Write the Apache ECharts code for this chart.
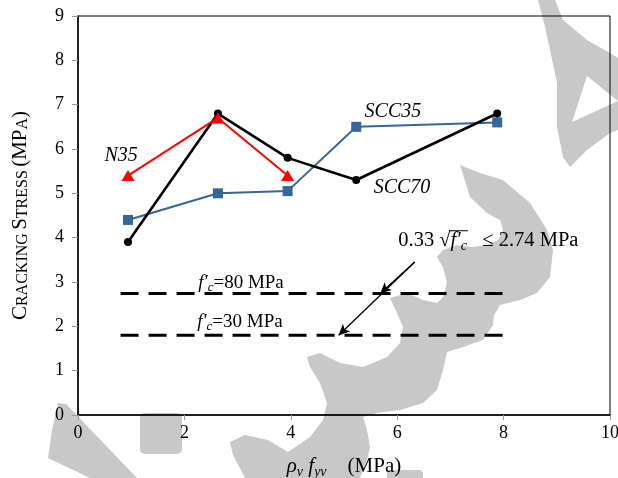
<!DOCTYPE html>
<html>
<head>
<meta charset="utf-8">
<script src="https://cdn.jsdelivr.net/npm/echarts@6/dist/echarts.min.js"></script>
<style>
  html, body { margin: 0; padding: 0; background: #fff; }
  #chart { width: 618px; height: 478px; }
</style>
</head>
<body>
<div id="chart"></div>
<script>
// Shear reinforcement index ρv·fyv (MPa) for each beam group
const reinforcement = [0.94, 2.63, 3.94, 5.23, 7.88];
// Measured cracking stress (MPa)
const scc70 = [3.9, 6.8, 5.8, 5.3, 6.8];
const scc35 = [4.4, 5.0, 5.05, 6.5, 6.6];
const n35 = [5.4, 6.7, 5.4];
// Code limit 0.33·√f'c for two concrete strengths
const limitSpan = [0.8, 8.0];
const limit80 = 2.74;
const limit30 = 1.8;
// Axis ranges
const xRange = [0, 10, 2];
const yRange = [0, 9, 1];

const serif = '"Liberation Serif", "Times New Roman", serif';
const pairs = (xs, ys) => ys.map((y, i) => [xs[i], y]);

const chart = echarts.init(document.getElementById('chart'), null, { renderer: 'canvas' });

const dashed = { color: '#000', width: 3, type: [18, 10] };

chart.setOption({
  animation: false,
  backgroundColor: '#fff',
  grid: {
    left: 78, right: 8, top: 16, bottom: 63,
    containLabel: false, outerBoundsMode: 'none',
    show: true, borderColor: '#000', borderWidth: 1, backgroundColor: 'transparent'
  },
  xAxis: {
    type: 'value', min: xRange[0], max: xRange[1], interval: xRange[2],
    splitLine: { show: false },
    axisLine: { show: true, onZero: false, lineStyle: { color: '#000', width: 1.5 } },
    axisTick: { show: true, inside: false, length: 5, lineStyle: { color: '#999', width: 1 } },
    axisLabel: { color: '#000', fontFamily: serif, fontSize: 18, margin: 9 },
    name: '{i|ρ}{s|v}{n| }{i|f}{s|yv}{n|    (MPa)}',
    nameLocation: 'middle', nameGap: 39,
    nameTextStyle: {
      rich: {
        i: { fontFamily: serif, fontStyle: 'italic', fontSize: 21, lineHeight: 25, color: '#000' },
        s: { fontFamily: serif, fontStyle: 'italic', fontSize: 14, lineHeight: 15, verticalAlign: 'bottom', color: '#000' },
        n: { fontFamily: serif, fontSize: 21, lineHeight: 25, color: '#000' }
      }
    }
  },
  yAxis: {
    type: 'value', min: yRange[0], max: yRange[1], interval: yRange[2],
    splitLine: { show: false },
    axisLine: { show: true, onZero: false, lineStyle: { color: '#000', width: 1.5 } },
    axisTick: { show: true, inside: false, length: 6, lineStyle: { color: '#999', width: 1 } },
    axisLabel: { color: '#000', fontFamily: serif, fontSize: 18, margin: 14 },
    name: '{b|C}{s|RACKING} {b|S}{s|TRESS} {b|(MP}{s|A}{b|)}',
    nameLocation: 'middle', nameGap: 47, nameRotate: 90,
    nameTextStyle: {
      rich: {
        b: { fontFamily: serif, fontSize: 21, lineHeight: 21, verticalAlign: 'bottom', color: '#000' },
        s: { fontFamily: serif, fontSize: 16, lineHeight: 16, verticalAlign: 'bottom', color: '#000' }
      }
    }
  },
  series: [
    {
      name: 'limit80', type: 'line', data: [[limitSpan[0], limit80], [limitSpan[1], limit80]],
      symbol: 'none', lineStyle: dashed, z: 2, silent: true,
      markLine: {
        silent: true, symbol: ['none', 'arrow'], symbolSize: [8, 11],
        label: { show: false },
        lineStyle: { color: '#000', width: 1.3, type: 'solid' },
        data: [
          [{ coord: [6.33, 3.45] }, { coord: [5.68, limit80] }],
          [{ coord: [6.33, 3.45] }, { coord: [4.9, limit30] }]
        ]
      }
    },
    {
      name: 'limit30', type: 'line', data: [[limitSpan[0], limit30], [limitSpan[1], limit30]],
      symbol: 'none', lineStyle: dashed, z: 2, silent: true
    },
    {
      name: 'SCC35', type: 'line', data: pairs(reinforcement, scc35),
      symbol: 'rect', symbolSize: 10, showAllSymbol: true,
      itemStyle: { color: '#34659b' }, lineStyle: { color: '#34659b', width: 2 }, z: 3
    },
    {
      name: 'SCC70', type: 'line', data: pairs(reinforcement, scc70),
      symbol: 'circle', symbolSize: 8, showAllSymbol: true,
      itemStyle: { color: '#000' }, lineStyle: { color: '#000', width: 2.6 }, z: 4
    },
    {
      name: 'N35', type: 'line', data: pairs(reinforcement, n35),
      symbol: 'triangle', symbolSize: [13, 11], showAllSymbol: true,
      itemStyle: { color: '#ff0000' }, lineStyle: { color: '#ff0000', width: 2 }, z: 5
    }
  ]
});

// Annotation text and the background watermark
const px = p => chart.convertToPixel({ gridIndex: 0 }, p);
const measure = (() => {
  const ctx = document.createElement('canvas').getContext('2d');
  return (text, font) => { ctx.font = font; return ctx.measureText(text).width; };
})();

const italicLabel = (text, at) => {
  const p = px(at);
  return {
    type: 'text', x: p[0], y: p[1], z: 50,
    style: { text, fontFamily: serif, fontStyle: 'italic', fontSize: 20, fill: '#000', align: 'center', verticalAlign: 'middle' }
  };
};

const fcRich = {
  f: { fontFamily: serif, fontStyle: 'italic', fontSize: 19, lineHeight: 23, fill: '#000' },
  c: { fontFamily: serif, fontStyle: 'italic', fontSize: 13, lineHeight: 13, verticalAlign: 'bottom', fill: '#000' },
  n: { fontFamily: serif, fontSize: 19, lineHeight: 23, fill: '#000' }
};
const fcLabel = (strength, at) => {
  const p = px(at);
  return {
    type: 'text', x: p[0], y: p[1], z: 50,
    style: { text: '{f|f′}{c|c}{n|=' + strength + ' MPa}', rich: fcRich, align: 'left', verticalAlign: 'middle' }
  };
};

// 0.33 √f'c ≤ 2.74 MPa
const fAt = px([6.02, 3.93]);
const fs = 20.5;
const wNum = measure('0.33 ', fs + 'px ' + serif);
const wRoot = measure('√', fs + 'px ' + serif);
const wF = measure('f′', 'italic ' + fs + 'px ' + serif);
const wC = measure('c', 'italic 14px ' + serif);
const formula = [
  {
    type: 'text', x: fAt[0], y: fAt[1], z: 50,
    style: {
      text: '{n|0.33 }{r|√}{f|f′}{c|c}{n|   ≤ 2.74 MPa}',
      align: 'left', verticalAlign: 'middle',
      rich: {
        n: { fontFamily: serif, fontSize: fs, lineHeight: 25, fill: '#000' },
        r: { fontFamily: serif, fontSize: fs, lineHeight: 25, fill: '#000' },
        f: { fontFamily: serif, fontStyle: 'italic', fontSize: fs, lineHeight: 25, fill: '#000' },
        c: { fontFamily: serif, fontStyle: 'italic', fontSize: 14, lineHeight: 14, verticalAlign: 'bottom', fill: '#000' }
      }
    }
  },
  {
    type: 'line', z: 50,
    shape: { x1: fAt[0] + wNum + wRoot - 1.5, y1: fAt[1] - 10, x2: fAt[0] + wNum + wRoot + wF + wC + 1, y2: fAt[1] - 10 },
    style: { stroke: '#000', lineWidth: 1 }
  }
];

// Grey watermark shapes behind the plot
const wm = '#c8c8c8';
const watermark = [
  { type: 'polygon', z: -10, shape: { points: [[538,0],[555,0],[563,20],[587,40],[610,53],[618,58],[618,130],[610,133],[587,150],[570,167],[563,157],[557,127],[557,83],[550,50],[545,27]] }, style: { fill: wm } },
  { type: 'polygon', z: -9, shape: { points: [[587,76],[572,122],[618,101]] }, style: { fill: '#fff' } },
  { type: 'polygon', z: -10, shape: { points: [
    [460,165],[480,173],[503,180],[530,203],[547,230],[553,250],[550,277],[537,293],[520,300],[500,305],
    [494,315],[493,325],[483,340],[463,347],[447,352],[443,370],[437,390],[423,403],[400,410],[377,413],
    [363,417],[367,430],[370,447],[367,460],[360,478],[245,478],[233,455],[230,442],[245,435],[268,440],
    [288,452],[310,437],[323,420],[327,403],[320,383],[310,367],[307,357],[320,353],[340,363],[363,367],
    [387,357],[400,343],[403,327],[397,313],[390,298],[407,293],[423,300],[437,303],[443,297],[447,283],
    [443,267],[437,257],[443,250],[457,245],[472,247],[487,245],[498,240],[503,230],[500,220],[487,213],
    [470,197]
  ] }, style: { fill: wm } },
  { type: 'polygon', z: -10, shape: { points: [[58,403],[66,404],[137,478],[90,478],[48,458],[52,430]] }, style: { fill: wm } },
  { type: 'rect', z: -10, shape: { x: 140, y: 413, width: 42, height: 41, r: 5 }, style: { fill: wm } },
  { type: 'rect', z: -10, shape: { x: 387, y: 470, width: 36, height: 12, r: 4 }, style: { fill: wm } }
];

chart.setOption({
  graphic: [
    ...watermark,
    italicLabel('N35', [0.81, 5.84]),
    italicLabel('SCC35', [5.92, 6.84]),
    italicLabel('SCC70', [6.09, 5.12]),
    fcLabel(80, [2.26, 2.98]),
    fcLabel(30, [2.24, 2.10]),
    ...formula
  ]
});
</script>
</body>
</html>
